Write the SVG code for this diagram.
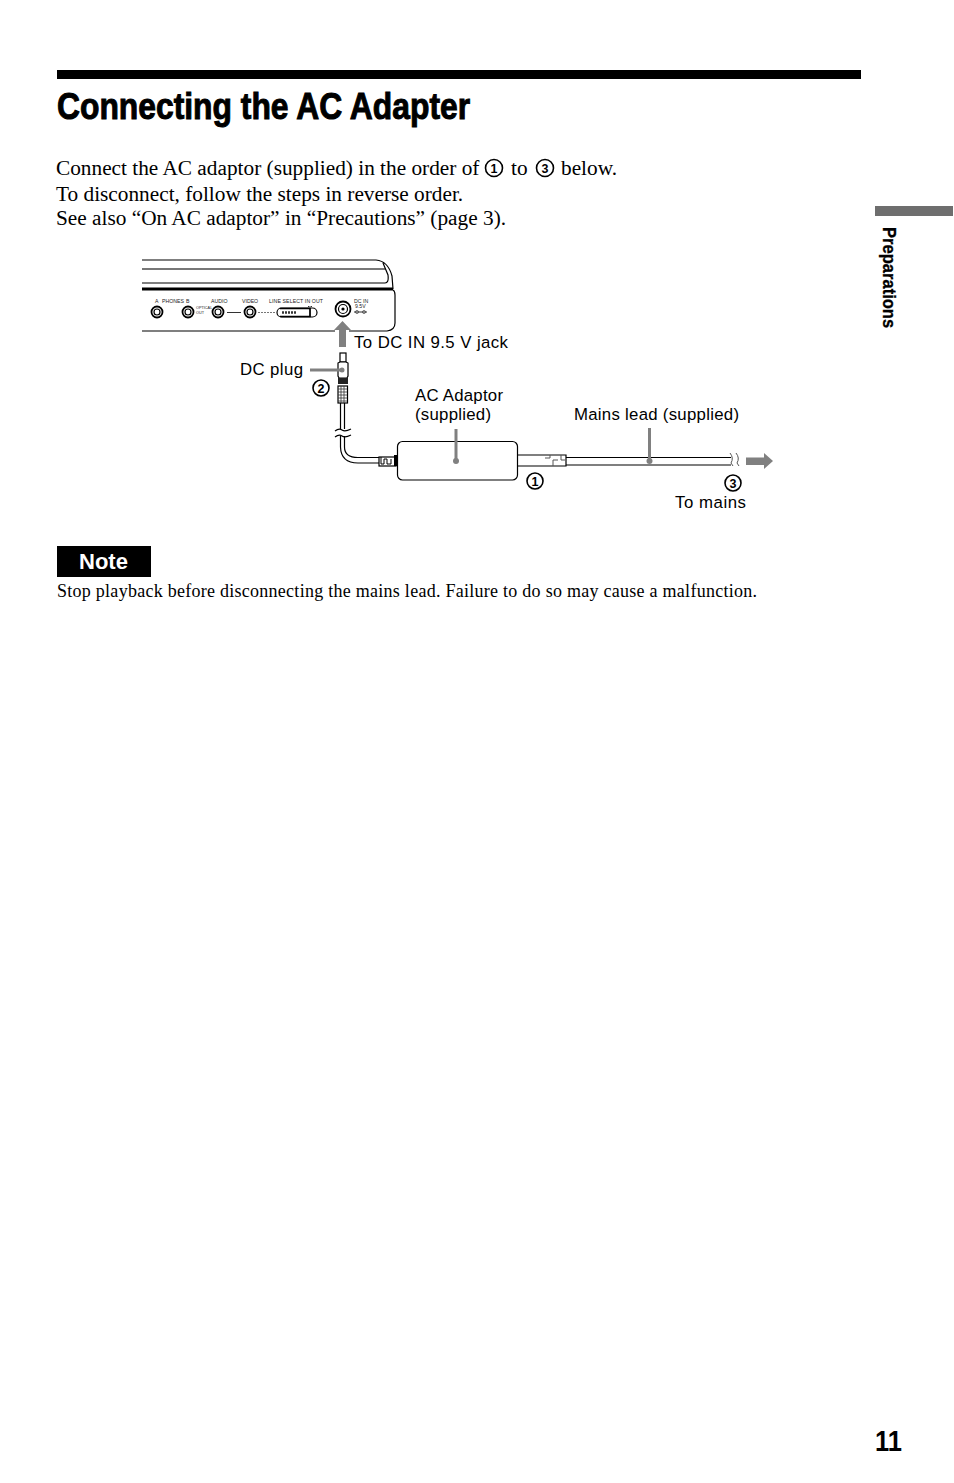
<svg xmlns="http://www.w3.org/2000/svg" width="954" height="1483" viewBox="0 0 954 1483">
<style>
text{font-family:"Liberation Sans",Arial,sans-serif;fill:#000}
.b{font-family:"Liberation Serif","Times New Roman",serif;font-size:21.3px}
.l{font-size:16.800px}
.t{font-size:5.200px;fill:#222}
.t2{font-size:3.800px;fill:#222}
.n{font-size:12.500px;font-weight:bold;text-anchor:middle}
.o{fill:none;stroke:#000;stroke-width:1.200}
.w{fill:#fff;stroke:#000;stroke-width:1.200}
.g{fill:none;stroke:#808080;stroke-width:3}
.gf{fill:#808080}
.c{fill:#fff;stroke:#000;stroke-width:1.600}
</style>
<rect width="954" height="1483" fill="#fff"/>
<g id="page-header">
<rect x="57" y="70" width="804" height="9" fill="#000"/>
<text transform="translate(57 119) scale(.849 1)" font-size="37.500" font-weight="bold" stroke="#000" stroke-width="1">Connecting the AC Adapter</text>
<text class="b" x="56" y="175">Connect the AC adaptor (supplied) in the order of</text>
<circle class="c" cx="494" cy="168" r="8.500"/><text class="n" x="494" y="172.500">1</text>
<text class="b" x="511" y="175">to</text>
<circle class="c" cx="545" cy="168" r="8.500"/><text class="n" x="545" y="172.500">3</text>
<text class="b" x="561" y="175">below.</text>
<text class="b" x="56" y="201">To disconnect, follow the steps in reverse order.</text>
<text class="b" x="56" y="225">See also “On AC adaptor” in “Precautions” (page 3).</text>
</g>
<g id="dvd-player">
<path class="o" d="M142 260H376Q388 261 392 276L393 289"/>
<path d="M142 269H385" fill="none" stroke="#777" stroke-width="2"/>
<path class="o" d="M142 283H385Q389 283 388 275L383 263"/>
<path d="M142 289H393" fill="none" stroke="#000" stroke-width="3"/>
<path class="o" d="M393 290Q395 291 395 295V323Q395 330 387 331H349M335 331H142"/>
<circle class="o" cx="157" cy="312" r="5.500" style="stroke-width:1.800"/><circle class="o" cx="157" cy="312" r="3"/>
<circle class="o" cx="188" cy="312" r="5.500" style="stroke-width:1.800"/><circle class="o" cx="188" cy="312" r="3"/>
<circle class="o" cx="218" cy="312" r="5.500" style="stroke-width:1.800"/><circle class="o" cx="218" cy="312" r="3"/>
<circle class="o" cx="250" cy="312" r="5.500" style="stroke-width:1.800"/><circle class="o" cx="250" cy="312" r="3"/>
<circle class="o" cx="343" cy="309" r="7.500" style="stroke-width:1.800"/><circle class="o" cx="343" cy="309" r="4.500"/>
<circle cx="343" cy="309" r="1.600" fill="#000"/>
<path d="M227 312.500H241" stroke="#333" stroke-width="1"/>
<path d="M258 312.500H276" stroke="#777" stroke-width="1" stroke-dasharray="2 1"/>
<rect class="o" x="277" y="308" width="40" height="9" rx="4.500"/>
<path d="M280 308.500H310V316.500H280" fill="none" stroke="#000" stroke-width="1.500"/>
<path d="M310 308V317" stroke="#000"/>
<path d="M282 312.500H297" stroke="#333" stroke-width="2.500" stroke-dasharray="2 1"/>
<path d="M308 306.500H313" stroke="#333" stroke-dasharray="1.500 1"/>
<text class="t" x="155" y="303">A</text><text class="t" x="162" y="303">PHONES</text><text class="t" x="186" y="303">B</text>
<text class="t" x="211" y="303">AUDIO</text><text class="t" x="242" y="303">VIDEO</text>
<text class="t" x="269" y="303" textLength="54">LINE SELECT  IN  OUT</text>
<text class="t2" x="196" y="309">OPTICAL</text><text class="t2" x="196" y="314">OUT</text>
<text class="t" x="354" y="303">DC IN</text><text class="t" x="355" y="308">9.5V</text>
<path d="M354 312H367" stroke="#333"/><circle cx="357" cy="312" r="1.500" fill="none" stroke="#333" stroke-width=".7"/><circle cx="364" cy="312" r="1.500" fill="none" stroke="#333" stroke-width=".7"/>
</g>
<g id="dc-plug">
<rect class="w" x="340" y="353" width="6" height="9"/>
<path class="w" d="M338 363L340 362H346L348 363V376L347 378H339L338 376Z"/>
<rect x="338" y="378" width="10" height="6" fill="#222"/>
<rect class="w" x="338" y="386" width="9.500" height="17"/>
<path d="M338 389H347M338 392H347M338 395H347M338 398H347M338 401H347M341 386V403M344 386V403" stroke="#333" stroke-width=".8"/>
<path class="o" d="M340.500 403V429M344.500 403V429M340.500 436V447Q341 463 358 463H379M344.500 436V447Q344.500 457.500 358 457.500H379"/>
<path class="o" d="M335 431Q339 428 342 430T351 429M335 437Q339 434 342 436T351 435"/>
<rect class="w" x="379" y="457" width="17" height="9"/>
<path d="M381 457V464H384V459H387V464H391V459" fill="none" stroke="#000"/>
<rect x="394" y="455" width="3" height="11" fill="#000"/>
</g>
<g id="ac-adaptor">
<rect class="w" x="397.500" y="441.500" width="120" height="38.500" rx="5"/>
</g>
<g id="mains-lead">
<path class="o" d="M518 455L550 455H566V466H518"/>
<path d="M545 458H550V455M553 466V460H558M561 455V460H565" fill="none" stroke="#555"/>
<path d="M566 457.500H731M566 465H731" class="o"/>
<path d="M730 453Q734 458 731 463L733 466M736 453Q740 458 737 463L739 466" fill="none" stroke="#555"/>
</g>
<g id="connectors">
<path class="gf" d="M342.500 321L351 330H346V347H339V330H334Z"/>
<path class="g" d="M310 370H342"/><circle class="gf" cx="342" cy="370" r="2.500"/>
<path class="g" d="M456 429V461"/><circle class="gf" cx="456" cy="461" r="3"/>
<path class="g" d="M649.500 428V461"/><circle class="gf" cx="649.500" cy="461" r="3"/>
<path class="gf" d="M746 457.500H764V453L773 461L764 469V465H746Z"/>
</g>
<g id="labels">
<text class="l" x="354" y="348" textLength="154">To DC IN 9.5 V jack</text>
<text class="l" x="240" y="375" textLength="63">DC plug</text>
<text class="l" x="415" y="401" textLength="88">AC Adaptor</text>
<text class="l" x="415" y="420" textLength="76">(supplied)</text>
<text class="l" x="574" y="420" textLength="165">Mains lead (supplied)</text>
<text class="l" x="675" y="508" textLength="71">To mains</text>
<circle class="c" cx="321" cy="388" r="8"/><text class="n" x="321" y="392.500">2</text>
<circle class="c" cx="535" cy="481" r="8"/><text class="n" x="535" y="485.500">1</text>
<circle class="c" cx="733" cy="483" r="8"/><text class="n" x="733" y="487.500">3</text>
</g>
<g id="note">
<rect x="57" y="546" width="94" height="31" fill="#000"/>
<text x="103.500" y="569" font-size="22" font-weight="bold" text-anchor="middle" style="fill:#fff">Note</text>
<text x="57" y="597" style="font-family:'Liberation Serif',serif" font-size="18" textLength="700">Stop playback before disconnecting the mains lead. Failure to do so may cause a malfunction.</text>
</g>
<g id="side-tab">
<rect x="875" y="206" width="78" height="10" fill="#6e6e6e"/>
<text transform="translate(883 227) rotate(90) scale(.92 1)" font-size="18" font-weight="bold" stroke="#000" stroke-width=".3">Preparations</text>
</g>
<g id="page-number"><text transform="translate(875 1451) scale(.85 1)" font-size="30" font-weight="bold">11</text></g>
</svg>
